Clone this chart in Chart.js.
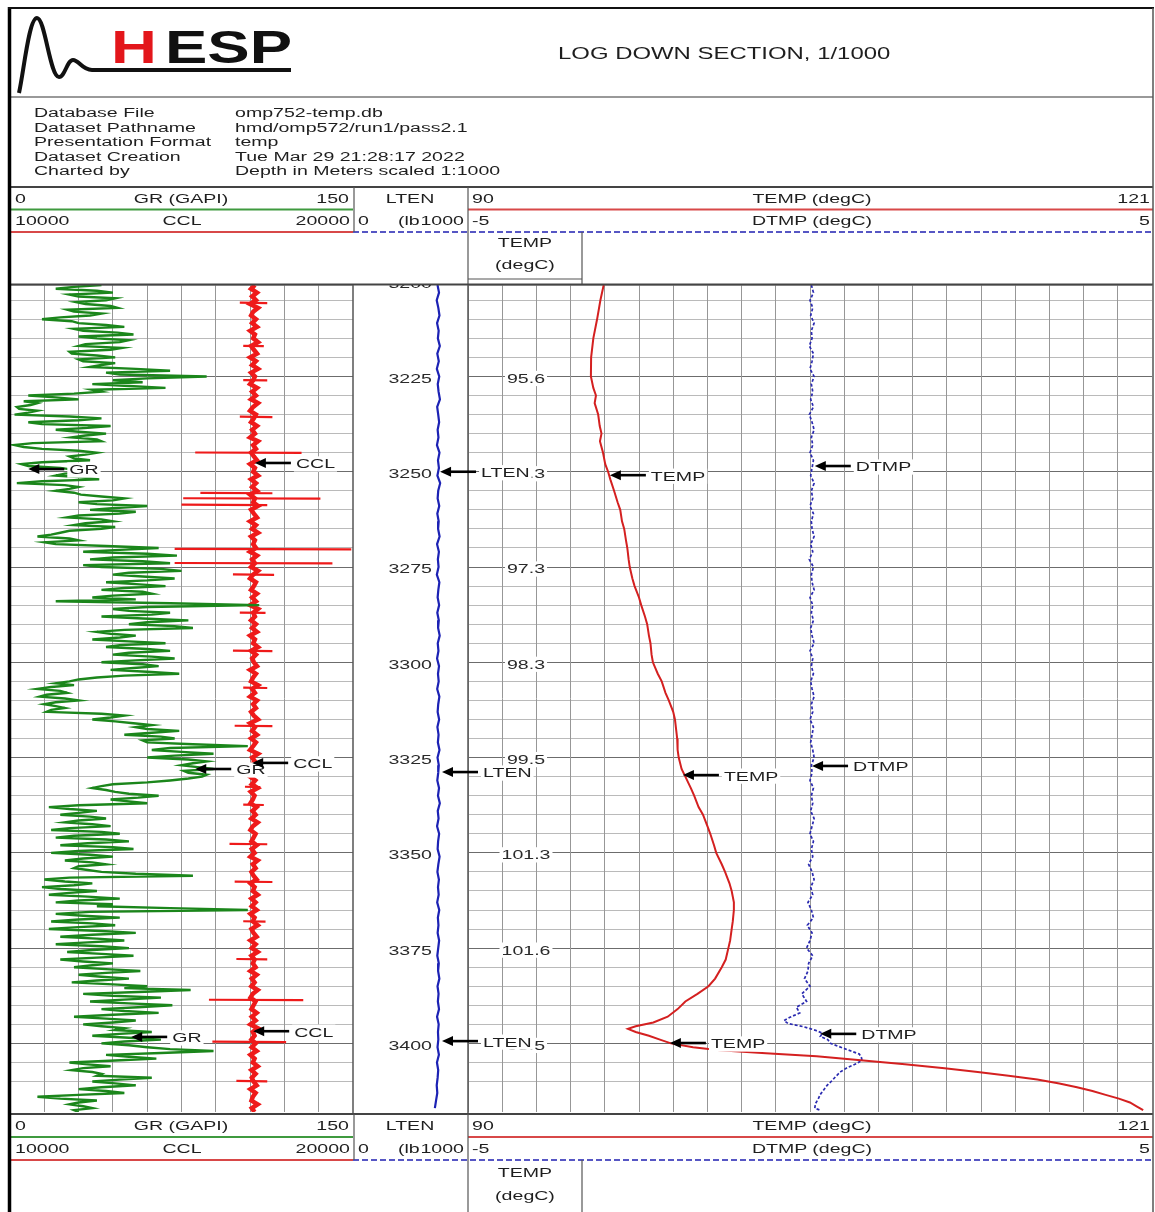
<!DOCTYPE html>
<html>
<head>
<meta charset="utf-8">
<title>Log down section</title>
<script src="https://cdn.jsdelivr.net/npm/chart.js@4.4.1/dist/chart.umd.min.js"></script>
<style>
  html, body { margin: 0; padding: 0; background: #fff; }
  #page { position: relative; width: 1155px; height: 1212px; overflow: hidden; }
  canvas { position: absolute; }
  #frame { position: absolute; left: 0; top: 0; }
</style>
</head>
<body>
<div id="page">
  <canvas id="track1" width="343" height="827" style="left:10px;top:285px"></canvas>
  <canvas id="track2" width="115" height="827" style="left:353px;top:285px"></canvas>
  <canvas id="track3" width="684" height="827" style="left:468px;top:285px"></canvas>
  <svg id="frame" width="1155" height="1212"></svg>
</div>
<script>
// depth window (m)
const depthTop = 3201;
const depthBottom = 3418;
const depthMarks = [3200, 3225, 3250, 3275, 3300, 3325, 3350, 3375, 3400];
const tempReadouts = ["", "95.6", "96.3", "97.3", "98.3", "99.5", "101.3", "101.6", "98.5"];

// GR (GAPI), one reading per metre from 3201
const grStart = 3201;
const grValues = [
  40, 20, 45, 30, 42, 33, 47, 28, 35, 14,
  30, 50, 32, 54, 38, 48, 30, 44, 27, 46,
  32, 40, 55, 42, 86, 45, 36, 68, 40, 8,
  30, 12, 3, 12, 2, 40, 8, 44, 20, 42,
  27, 40, 2, 14, 38, 26, 35, 5, 22, 36,
  20, 39, 3, 30, 20, 31, 50, 30, 60, 35,
  48, 25, 45, 28, 40, 22, 12, 30, 20, 65,
  32, 73, 35, 70, 40, 75, 45, 72, 42, 68,
  40, 62, 36, 20, 109, 45, 70, 40, 78, 52,
  80, 38, 55, 36, 68, 42, 70, 45, 72, 40,
  65, 44, 74, 38, 26, 28, 12, 25, 13, 30,
  15, 24, 16, 50, 36, 54, 55, 74, 50, 72,
  60, 104, 62, 89, 60, 86, 75, 89, 78, 84,
  70, 45, 36, 46, 65, 44, 60, 17, 38, 22,
  42, 24, 44, 18, 48, 20, 52, 22, 54, 18,
  45, 24, 42, 28, 40, 80, 15, 36, 14, 38,
  17, 48, 20, 38, 104, 20, 48, 18, 46, 17,
  55, 22, 50, 20, 52, 25, 54, 22, 45, 28,
  57, 30, 52, 27, 60, 79, 32, 66, 35, 71,
  40, 65, 28, 55, 32, 50, 62, 36, 66, 40,
  60, 89, 42, 64, 26, 44, 27, 40, 62, 36,
  55, 30, 50, 12, 38, 26, 36, 30
];
// GR readings at the half metres, 3201.5 .. 3417.5
const grHalfStart = 3201.5;
const grHalfValues = [
  28, 38, 26, 46, 29, 44, 25, 40, 22, 27,
  42, 28, 47, 30, 52, 33, 49, 26, 38, 30,
  46, 35, 70, 48, 60, 58, 52, 36, 28, 20,
  6, 9, 4, 8, 26, 30, 14, 34, 30, 33,
  38, 10, 6, 30, 33, 28, 14, 8, 28, 24,
  33, 14, 24, 26, 28, 40, 45, 38, 46, 55,
  30, 40, 33, 46, 26, 18, 26, 15, 42, 48,
  60, 45, 58, 32, 66, 52, 58, 60, 55, 50,
  58, 45, 55, 70, 60, 52, 62, 58, 60, 72,
  50, 44, 48, 52, 48, 60, 52, 62, 55, 58,
  54, 60, 50, 30, 20, 18, 22, 16, 24, 20,
  20, 18, 40, 44, 46, 62, 60, 62, 66, 58,
  80, 70, 75, 72, 78, 80, 82, 76, 86, 78,
  60, 40, 42, 52, 56, 52, 30, 26, 30, 35,
  30, 36, 26, 40, 28, 42, 34, 45, 30, 35,
  32, 36, 30, 34, 55, 26, 24, 28, 22, 26,
  34, 30, 45, 70, 35, 32, 30, 36, 30, 40,
  36, 38, 34, 40, 36, 40, 38, 32, 36, 42,
  42, 40, 38, 45, 50, 56, 45, 50, 52, 56,
  50, 45, 42, 45, 40, 46, 48, 52, 50, 52,
  70, 66, 52, 46, 34, 32, 36, 38, 48, 46,
  40, 42, 30, 22, 30, 32, 28
];

// CCL, one reading per metre from 3201
const cclValues = [
  17140, 17030, 17200, 17060, 17170, 17000, 17230, 17090, 17030, 17170,
  17060, 17200, 17000, 17140, 17090, 17230, 17030, 17110, 17200, 17000,
  17170, 17060, 17230, 17030, 17140, 17090, 17000, 17200, 17060, 17170,
  17030, 17230, 17090, 17000, 17170, 17110, 17030, 17200, 17060, 17140,
  17000, 17230, 17090, 17170, 17030, 17110, 17200, 17000, 17140, 17090,
  17230, 17030, 17170, 17060, 17200, 17000, 17140, 17090, 17230, 17030,
  17110, 17200, 17000, 17170, 17060, 17230, 17030, 17140, 17090, 17170,
  17000, 17200, 17060, 17140, 17030, 17230, 17090, 17000, 17170, 17110,
  17030, 17200, 17060, 17170, 17000, 17230, 17090, 17140, 17030, 17170,
  17060, 17200, 17000, 17140, 17090, 17230, 17030, 17170, 17060, 17110,
  17200, 17000, 17170, 17090, 17030, 17230, 17060, 17140, 17000, 17200,
  17090, 17170, 17030, 17110, 17230, 17000, 17140, 17060, 17200, 17030,
  17170, 17090, 17000, 17230, 17060, 17140, 17030, 17200, 17110, 17000,
  17150, 17050, 17220, 17020, 17130, 17080, 17010, 17190, 17070, 17160,
  17040, 17220, 17080, 17010, 17160, 17100, 17040, 17190, 17050, 17130,
  17010, 17220, 17080, 17160, 17040, 17100, 17190, 17010, 17130, 17080,
  17220, 17040, 17160, 17050, 17190, 17010, 17130, 17080, 17220, 17040,
  17100, 17190, 17010, 17160, 17050, 17220, 17040, 17130, 17080, 17160,
  17010, 17190, 17050, 17130, 17040, 17220, 17080, 17010, 17160, 17100,
  17040, 17190, 17050, 17160, 17010, 17220, 17080, 17130, 17040, 17160,
  17050, 17190, 17010, 17130, 17080, 17220, 17040, 17160, 17050, 17100,
  17190, 17010, 17160, 17080, 17040, 17220, 17050, 17130
];
// casing collar kicks
const collarDepths = [3205.7, 3217.0, 3226.0, 3235.6, 3245.0, 3255.6, 3257.0, 3258.7, 3270.3, 3274.0, 3277.0, 3287.0,
  3297.0, 3306.7, 3316.7, 3332.7, 3337.4, 3347.7, 3357.6, 3368.0, 3377.9, 3388.6, 3399.6, 3409.9];
const collarLeft = [16700, 16800, 16800, 16700, 15400, 15550, 15050, 15000, 14800, 14800, 16500, 16700,
  16500, 16800, 16550, 16850, 16800, 16400, 16550, 16800, 16600, 15800, 15900, 16600];
const collarRight = [17500, 17400, 17500, 17650, 18500, 17650, 19050, 17500, 19950, 19400, 17700, 17450,
  17650, 17500, 17650, 17300, 17400, 17500, 17650, 17450, 17500, 18550, 18050, 17500];

// LTEN (lb), every 2 m from 3201
const ltenStart = 3201;
const ltenValues = [
  735, 748, 728, 742, 752, 731, 745, 738, 755, 733,
  746, 729, 750, 737, 744, 756, 732, 741, 749, 736,
  743, 730, 752, 739, 747, 734, 758, 741, 736, 750,
  733, 745, 740, 753, 731, 747, 738, 744, 729, 751,
  742, 736, 749, 733, 746, 740, 754, 737, 743, 731,
  748, 739, 745, 732, 751, 741, 736, 749, 734, 744,
  738, 752, 735, 746, 741, 733, 748, 739, 755, 737,
  744, 731, 749, 740, 736, 753, 742, 734, 747, 739,
  745, 732, 750, 738, 743, 736, 749, 741, 733, 746,
  740, 751, 735, 744, 738, 748, 731, 745, 739, 742,
  735, 747, 730, 741, 736, 728, 733, 722, 712
];

// TEMP (degC)
const tempDepths = [3201, 3205, 3210, 3215, 3220, 3225, 3228, 3230, 3232, 3235, 3238, 3240, 3242, 3245, 3248,
  3250, 3252, 3255, 3258, 3260, 3263, 3265, 3268, 3270, 3273, 3275, 3278, 3280, 3283, 3285, 3288, 3290, 3293,
  3295, 3298, 3300, 3303, 3305, 3308, 3310, 3313, 3315, 3318, 3320, 3323, 3325, 3328, 3330, 3333, 3335, 3338,
  3340, 3343, 3345, 3348, 3350, 3353, 3355, 3358, 3360, 3363, 3365, 3368, 3370, 3373, 3375, 3378, 3380, 3383,
  3385, 3387, 3389, 3391, 3393, 3394.5, 3395.5, 3396.2, 3397, 3398, 3399, 3400, 3401, 3401.8, 3402.6, 3403.4,
  3404.4, 3405.5, 3406.5, 3407.5, 3408.5, 3409.5, 3410.5, 3411.5, 3412.5, 3413.5, 3414.5, 3415.5, 3416.5, 3417.5];
const tempValues = [96.15, 96.0, 95.85, 95.68, 95.58, 95.57, 95.68, 95.8, 95.74, 95.9, 95.97, 96.05, 95.98, 96.12, 96.22,
  96.35, 96.45, 96.62, 96.78, 96.9, 96.98, 97.08, 97.16, 97.22, 97.28, 97.33, 97.45, 97.55, 97.75, 97.85, 98.02, 98.12, 98.2,
  98.27, 98.32, 98.38, 98.6, 98.78, 98.95, 99.1, 99.3, 99.38, 99.44, 99.48, 99.5, 99.55, 99.68, 99.85, 100.1, 100.25, 100.45,
  100.65, 100.85, 100.98, 101.15, 101.25, 101.5, 101.65, 101.85, 101.95, 102.05, 102.05, 102.0, 101.95, 101.88, 101.8, 101.68, 101.5, 101.2,
  100.9, 100.4, 99.85, 99.5, 99.05, 98.4, 97.6, 97.25, 97.6, 98.2, 98.7, 99.2, 100.2, 101.4, 103.5, 105.8,
  107.8, 109.8, 111.6, 113.1, 114.5, 115.8, 116.8, 117.6, 118.3, 118.9, 119.5, 120.0, 120.3, 120.6];

// DTMP (degC), every 2 m from 3201 to 3381, then picked points below
const dtmpStart = 3201;
const dtmpValues = [
  0.02, 0.05, 0.00, 0.04, 0.01, 0.06, 0.02, 0.03, -0.01, 0.05,
  0.03, 0.00, 0.06, 0.02, 0.04, 0.01, 0.05, -0.01, 0.03, 0.06,
  0.02, 0.04, 0.00, 0.05, 0.03, 0.01, 0.06, 0.02, 0.04, 0.00,
  0.05, 0.02, 0.03, 0.06, 0.01, 0.04, -0.01, 0.05, 0.02, 0.03,
  0.06, 0.00, 0.04, 0.02, 0.05, 0.01, 0.03, 0.06, 0.00, 0.04,
  0.02, 0.05, 0.01, 0.03, 0.06, 0.02, 0.04, 0.00, 0.05, 0.03,
  0.01, 0.04, 0.06, 0.02, 0.03, 0.00, 0.05, 0.02, 0.04, 0.01,
  0.06, 0.03, 0.00, 0.05, 0.02, 0.04, -0.02, 0.03, 0.06, 0.01,
  0.04, -0.03, 0.02, 0.05, -0.04, 0.03, 0.00, -0.05, 0.04, -0.02,
  -0.03
];
const dtmpLowDepths = [3383, 3385, 3387, 3389, 3390.5, 3392, 3393.2, 3394, 3394.8, 3395.6, 3396.5, 3397.3, 3398.2, 3399,
  3400, 3401, 3402, 3402.8, 3403.6, 3404.4, 3405.3, 3406.3, 3407.4, 3408.6, 3409.8, 3411, 3412.2, 3413.4, 3414.6, 3415.8, 3417, 3417.6];
const dtmpLowValues = [-0.08, 0.0, -0.12, -0.05, -0.2, -0.15, -0.3, -0.38, -0.32, -0.1, 0.07, 0.18, 0.15, 0.26,
  0.3, 0.45, 0.6, 0.72, 0.75, 0.76, 0.68, 0.55, 0.45, 0.38, 0.32, 0.25, 0.2, 0.15, 0.12, 0.08, 0.07, 0.16];

// curve flags (arrow + name), three rows
const flagCurves = ["GR", "CCL", "LTEN", "TEMP", "DTMP"];
const flagDepths = [[3249.3, 3328.0, 3398.3], [3247.7, 3326.4, 3396.8], [3250.0, 3328.8, 3399.4], [3250.9, 3329.6, 3399.9], [3248.5, 3327.2, 3397.5]];
const flagValues = [[8, 81, 53], [17140, 17060, 17090], [757, 774, 774], [96.43, 99.74, 99.15], [0.07, 0.03, 0.15]];

// ---- build point lists ----
const grPoints = grValues.map((v, i) => ({ x: v, y: grStart + i }))
  .concat(grHalfValues.map((v, i) => ({ x: v, y: grHalfStart + i })))
  .sort((a, b) => a.y - b.y);
const cclPoints = cclValues.map((v, i) => ({ x: v, y: grStart + i }));
// each kick is its own short stroke, gaps keep them apart
const collarPoints = [];
collarDepths.forEach((d, k) => {
  collarPoints.push({ x: collarLeft[k], y: d - 0.05 });
  collarPoints.push({ x: collarRight[k], y: d + 0.05 });
  collarPoints.push({ x: null, y: null });
});
const ltenPoints = ltenValues.map((v, i) => ({ x: v, y: ltenStart + 2 * i }));
const tempPoints = tempDepths.map((d, i) => ({ x: tempValues[i], y: d }));
const dtmpPoints = dtmpValues.map((v, i) => ({ x: v, y: dtmpStart + 2 * i }))
  .concat(dtmpLowDepths.map((d, i) => ({ x: dtmpLowValues[i], y: d })));

// ---- charts ----
const depthGrid = (ctx) => (ctx.tick && ctx.tick.value % 25 === 0 ? "#6c6c6c" : "#bababa");

function depthScale(showGrid) {
  return {
    type: "linear", axis: "y", position: "left", reverse: true,
    min: depthTop, max: depthBottom,
    ticks: { display: false, stepSize: 5 },
    grid: { display: showGrid, drawTicks: false, color: depthGrid, lineWidth: 1 },
    border: { display: false },
  };
}
function valueScale(min, max, step, position, showGrid) {
  return {
    type: "linear", axis: "x", position: position, min: min, max: max,
    display: showGrid,
    ticks: { display: false, stepSize: step },
    grid: { display: showGrid, drawTicks: false, color: "#979797", lineWidth: 1 },
    border: { display: false },
  };
}
function curve(label, points, xAxis, color, width, dash) {
  return {
    label: label, data: points, xAxisID: xAxis, yAxisID: "depth",
    showLine: true, spanGaps: false, pointRadius: 0, borderColor: color, borderWidth: width,
    borderDash: dash || [], tension: 0, fill: false,
  };
}
const baseOptions = {
  responsive: false, animation: false, events: [],
  layout: { padding: 0 },
  plugins: { legend: { display: false }, tooltip: { enabled: false } },
};

const chart1 = new Chart(document.getElementById("track1"), {
  type: "scatter",
  data: { datasets: [
    curve("GR", grPoints, "gr", "#1b861b", 2.4),
    curve("CCL", cclPoints, "ccl", "#ee1a1a", 4.5),
    curve("CCL kicks", collarPoints, "ccl", "#ee1a1a", 2.2),
  ] },
  options: Object.assign({}, baseOptions, { scales: {
    depth: depthScale(true),
    gr: valueScale(0, 150, 15, "bottom", true),
    ccl: valueScale(10000, 20000, 1000, "top", false),
  } }),
});

const chart2 = new Chart(document.getElementById("track2"), {
  type: "scatter",
  data: { datasets: [curve("LTEN", ltenPoints, "lten", "#1c22b4", 2.2)] },
  options: Object.assign({}, baseOptions, { scales: {
    depth: depthScale(false),
    lten: valueScale(0, 1000, 100, "bottom", false),
  } }),
});

const chart3 = new Chart(document.getElementById("track3"), {
  type: "scatter",
  data: { datasets: [
    curve("TEMP", tempPoints, "temp", "#d42020", 2),
    curve("DTMP", dtmpPoints, "dtmp", "#2a2ab0", 1.7, [3, 2]),
  ] },
  options: Object.assign({}, baseOptions, { scales: {
    depth: depthScale(true),
    dtmp: valueScale(-5, 5, 0.5, "bottom", true),
    temp: valueScale(90, 121, 1, "top", false),
  } }),
});

// ---- frame, headers and labels (svg on top) ----
const NS = "http://www.w3.org/2000/svg";
const frame = document.getElementById("frame");
const SX = 1.45;
const FS = 13.5;
const FONT = "Liberation Sans, Arial, sans-serif";

function el(tag, attrs, parent) {
  const e = document.createElementNS(NS, tag);
  for (const k in attrs) e.setAttribute(k, attrs[k]);
  (parent || frame).appendChild(e);
  return e;
}
function line(x1, y1, x2, y2, stroke, w, dash) {
  el("line", { x1, y1, x2, y2, stroke, "stroke-width": w || 1, "stroke-dasharray": dash || "none" });
}
function text(x, y, s, anchor, opts) {
  opts = opts || {};
  const sx = opts.sx || SX;
  const parent = opts.parent || frame;
  const t = el("text", {
    transform: `translate(${x},${y}) scale(${sx},1)`,
    "text-anchor": anchor || "start",
    "dominant-baseline": opts.baseline || "central",
    "font-family": FONT, "font-size": opts.size || FS,
    "font-weight": opts.weight || "normal",
    fill: opts.color || "#1e1e1e",
  }, parent);
  t.textContent = s;
  if (opts.bg) {
    const b = t.getBBox();
    const r = document.createElementNS(NS, "rect");
    r.setAttribute("x", x + b.x * sx - 2);
    r.setAttribute("y", y + b.y);
    r.setAttribute("width", b.width * sx + 4);
    r.setAttribute("height", b.height);
    r.setAttribute("fill", "#fff");
    parent.insertBefore(r, t);
  }
  return t;
}

// logo + title
el("path", { d: "M19,93 C24,70 29,18 37,18 C45,18 50,77 59,77 C65,77 67,60 73,60 C79,60 82,70 92,70 L291,70",
  fill: "none", stroke: "#111", "stroke-width": 4 });
text(111, 63, "H", "start", { size: 46, weight: "bold", color: "#e3161b", sx: 1.38, baseline: "alphabetic" });
text(165, 63, "ESP", "start", { size: 46, weight: "bold", color: "#111", sx: 1.38, baseline: "alphabetic" });
text(558, 53, "LOG DOWN SECTION, 1/1000", "start", { size: 16.5 });

// info block
const infoNames = ["Database File", "Dataset Pathname", "Presentation Format", "Dataset Creation", "Charted by"];
const infoValues = ["omp752-temp.db", "hmd/omp572/run1/pass2.1", "temp", "Tue Mar 29 21:28:17 2022", "Depth in Meters scaled 1:1000"];
infoNames.forEach((n, i) => {
  text(34, 113 + i * 14.5, n, "start");
  text(235, 113 + i * 14.5, infoValues[i], "start");
});

// track header block (drawn at top and bottom)
function trackHeader(y0, r1, c1, r2, c2, b1, b2, boxBottom, end) {
  line(10, y0, 1153, y0, "#444", 2);
  text(15, r1, "0");
  text(181, r1, "GR (GAPI)", "middle");
  text(349, r1, "150", "end");
  text(410, r1, "LTEN", "middle");
  text(472, r1, "90");
  text(812, r1, "TEMP (degC)", "middle");
  text(1150, r1, "121", "end");
  line(10, c1, 353, c1, "#3f9a3f", 2);
  line(468, c1, 1153, c1, "#d84848", 2);
  text(15, r2, "10000");
  text(182, r2, "CCL", "middle");
  text(350, r2, "20000", "end");
  text(358, r2, "0");
  text(398, r2, "(lb");
  text(464, r2, "1000", "end");
  text(472, r2, "-5");
  text(812, r2, "DTMP (degC)", "middle");
  text(1150, r2, "5", "end");
  line(10, c2, 353, c2, "#d84848", 2);
  line(353, c2, 1153, c2, "#5656c4", 2, "6 3");
  line(354, y0, 354, c2, "#555", 1.2);
  line(468, y0, 468, end, "#555", 1.2);
  line(582, c2, 582, end, "#555", 1.2);
  line(468, boxBottom, 582, boxBottom, "#555", 1.2);
  text(525, b1, "TEMP", "middle");
  text(525, b2, "(degC)", "middle");
}
trackHeader(187, 199, 209.5, 221, 232, 243, 265, 279, 284);
trackHeader(1114, 1126, 1137, 1149, 1160, 1173, 1196, 1214, 1212);

// outer frame and track borders
line(10, 97, 1153, 97, "#777", 1.5);
line(10, 284.5, 1153, 284.5, "#444", 2);
line(353, 285, 353, 1113, "#555", 1.5);
line(468, 285, 468, 1113, "#555", 1.5);
line(9.5, 7, 9.5, 1212, "#000", 3.5);
line(8, 8, 1154, 8, "#111", 2);
line(1153, 8, 1153, 1212, "#555", 1.5);

// depth labels (track 2) and TEMP readouts (track 3), from the depth scale
const clip = el("clipPath", { id: "dataClip" });
el("rect", { x: 353, y: 285, width: 800, height: 828 }, clip);
const dataLayer = el("g", { "clip-path": "url(#dataClip)" });
const yScale = chart2.scales.depth;
depthMarks.forEach((d, i) => {
  const y = 287 + yScale.getPixelForValue(d);
  text(432, y, String(d), "end", { parent: dataLayer, color: "#2a2a2a" });
  if (tempReadouts[i]) text(526, y, tempReadouts[i], "middle", { parent: dataLayer, bg: true, color: "#2a2a2a" });
});

// curve flags
const flagScales = {
  GR: [chart1, "gr", 10], CCL: [chart1, "ccl", 10], LTEN: [chart2, "lten", 353],
  TEMP: [chart3, "temp", 468], DTMP: [chart3, "dtmp", 468],
};
flagCurves.forEach((name, c) => {
  const [ch, axis, left] = flagScales[name];
  flagDepths[c].forEach((d, k) => {
    const x = left + ch.scales[axis].getPixelForValue(flagValues[c][k]);
    const y = 285 + ch.scales.depth.getPixelForValue(d);
    text(x + 41, y + 1, name, "start", { bg: true, color: "#1e1e1e" });
    line(x + 9, y, x + 36, y, "#000", 2.6);
    el("path", { d: `M${x},${y} L${x + 11},${y - 5} L${x + 11},${y + 5} Z`, fill: "#000" });
  });
});
</script>
</body>
</html>
